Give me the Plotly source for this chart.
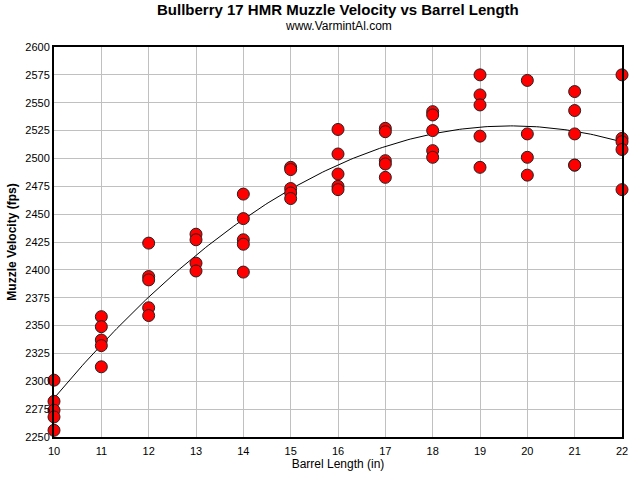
import numpy as np
import plotly.graph_objects as go

barrel_in = [10]*5 + [11]*5 + [12]*5 + [13]*4 + [14]*5 + [15]*5 + [16]*5 + [17]*5 + [18]*5 + [19]*5 + [20]*4 + [21]*5 + [22]*5
velocity_fps = [
    2301, 2282, 2274, 2268, 2256,
    2358, 2349, 2337, 2332, 2313,
    2424, 2394, 2391, 2366, 2359,
    2432, 2427, 2406, 2399,
    2468, 2446, 2427, 2423, 2398,
    2492, 2490, 2473, 2469, 2464,
    2526, 2504, 2486, 2475, 2472,
    2527, 2524, 2498, 2495, 2483,
    2542, 2539, 2525, 2507, 2501,
    2575, 2557, 2548, 2520, 2492,
    2570, 2522, 2501, 2485,
    2560, 2543, 2522, 2494, 2494,
    2575, 2518, 2515, 2508, 2472,
]
x_ticks = list(range(10, 23))
y_ticks = list(range(2250, 2601, 25))

coef = np.polyfit(barrel_in, velocity_fps, 2)
xf = np.linspace(10, 22, 200)
yf = np.polyval(coef, xf)

fig = go.Figure()
fig.add_trace(go.Scatter(x=xf, y=yf, mode="lines", line=dict(color="black", width=1), hoverinfo="skip"))
fig.add_trace(go.Scatter(x=barrel_in, y=velocity_fps, mode="markers",
                         marker=dict(color="#ff0000", size=12, line=dict(color="#222222", width=1)),
                         cliponaxis=False))

fig.update_layout(
    width=640, height=480,
    margin=dict(l=54, r=18, t=47, b=43, autoexpand=False),
    paper_bgcolor="white", plot_bgcolor="white",
    showlegend=False,
    font=dict(family="Liberation Sans, Arial", color="black", size=11),
)
fig.add_annotation(text="<b>Bullberry 17 HMR Muzzle Velocity vs Barrel Length</b>", xref="paper", yref="paper",
                   x=0.5, y=1.0, yshift=38, showarrow=False, font=dict(size=15), xanchor="center", yanchor="middle")
fig.add_annotation(text="www.VarmintAl.com", xref="paper", yref="paper",
                   x=0.5, y=1.0, yshift=21, showarrow=False, font=dict(size=12), xanchor="center", yanchor="middle")

fig.update_xaxes(range=[10, 22], tickvals=x_ticks, showgrid=True, gridcolor="#c0c0c0", gridwidth=1,
                 showline=True, linecolor="black", linewidth=2, mirror=True, zeroline=False,
                 ticks="outside", ticklen=3, tickcolor="rgba(0,0,0,0)", tickfont=dict(size=11),
                 title=dict(text="Barrel Length (in)", font=dict(size=12), standoff=2))
fig.update_yaxes(range=[2250, 2600], tickvals=y_ticks, showgrid=True, gridcolor="#c0c0c0", gridwidth=1,
                 showline=True, linecolor="black", linewidth=2, mirror=True, zeroline=False,
                 ticks="", tickfont=dict(size=11),
                 title=dict(text="<b>Muzzle Velocity (fps)</b>", font=dict(size=12), standoff=6))

fig.write_html("out.html", config={"displayModeBar": False},
               post_script="document.body.style.margin='0';")
